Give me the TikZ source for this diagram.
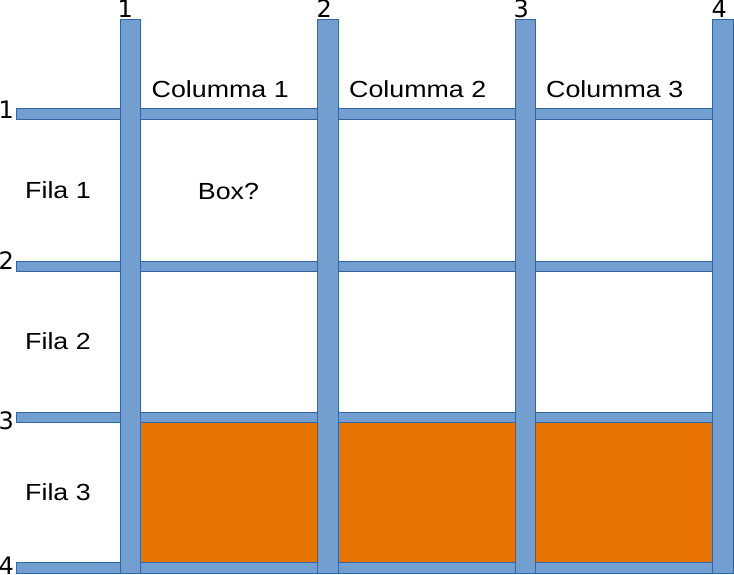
\documentclass[tikz,border=0pt]{standalone}
\usepackage{fontspec}
\setmainfont{Liberation Sans}[FakeStretch=1.15]
\newfontfamily\digitfont{DejaVu Sans}
\definecolor{barblue}{HTML}{729FCF}
\definecolor{barline}{HTML}{3465A4}
\definecolor{orng}{HTML}{E87400}
\begin{document}
\begin{tikzpicture}[x=1pt,y=-1pt,
  bar/.style={fill=barblue,draw=barline,line width=0.8pt},
  orangecell/.style={fill=orng,draw=gray,line width=0.6pt},
  lab/.style={font=\fontsize{23.3}{28}\selectfont,inner sep=0pt,anchor=base west},
  num/.style={font=\digitfont\fontsize{24}{28}\selectfont,inner sep=0pt,anchor=base west}]
\useasboundingbox (0,0) rectangle (734,574);
% orange cells
\draw[orangecell] (140.5,422.5) rectangle (317,562.5);
\draw[orangecell] (338,422.5) rectangle (515,562.5);
\draw[orangecell] (535,422.5) rectangle (712.5,562.5);
% horizontal bars
\foreach \ya/\yb in {108.5/119,261/271,412.5/422.5,562.5/573}
  \draw[bar] (16.5,\ya) rectangle (733,\yb);
% vertical bars
\foreach \xa/\xb in {120/140,317/338,515/535,712.5/733}
  \draw[bar] (\xa,19) rectangle (\xb,573);
% column numbers
\node[num] (c1) at (117.5,17.5) {1};
\node[num] (c2) at (316.5,17.5) {2};
\node[num] (c3) at (513.5,17.5) {3};
\node[num] (c4) at (711.5,17.5) {4};
% row numbers
\node[num] (r1) at (-1.5,118) {1};
\node[num] (r2) at (-1.5,269.5) {2};
\node[num] (r3) at (-1.5,429.3) {3};
\node[num] (r4) at (-1.5,574.2) {4};
% column labels
\node[lab] (col1) at (151.5,97.3) {Columma 1};
\node[lab] (col2) at (349,97.3) {Columma 2};
\node[lab] (col3) at (546,97.3) {Columma 3};
% row labels
\node[lab] (fila1) at (25,198.5) {Fila 1};
\node[lab] (fila2) at (25,349.5) {Fila 2};
\node[lab] (fila3) at (25,500.5) {Fila 3};
% box label
\node[lab,anchor=base] (box) at (228.5,199) {Box?};
\end{tikzpicture}
\end{document}
